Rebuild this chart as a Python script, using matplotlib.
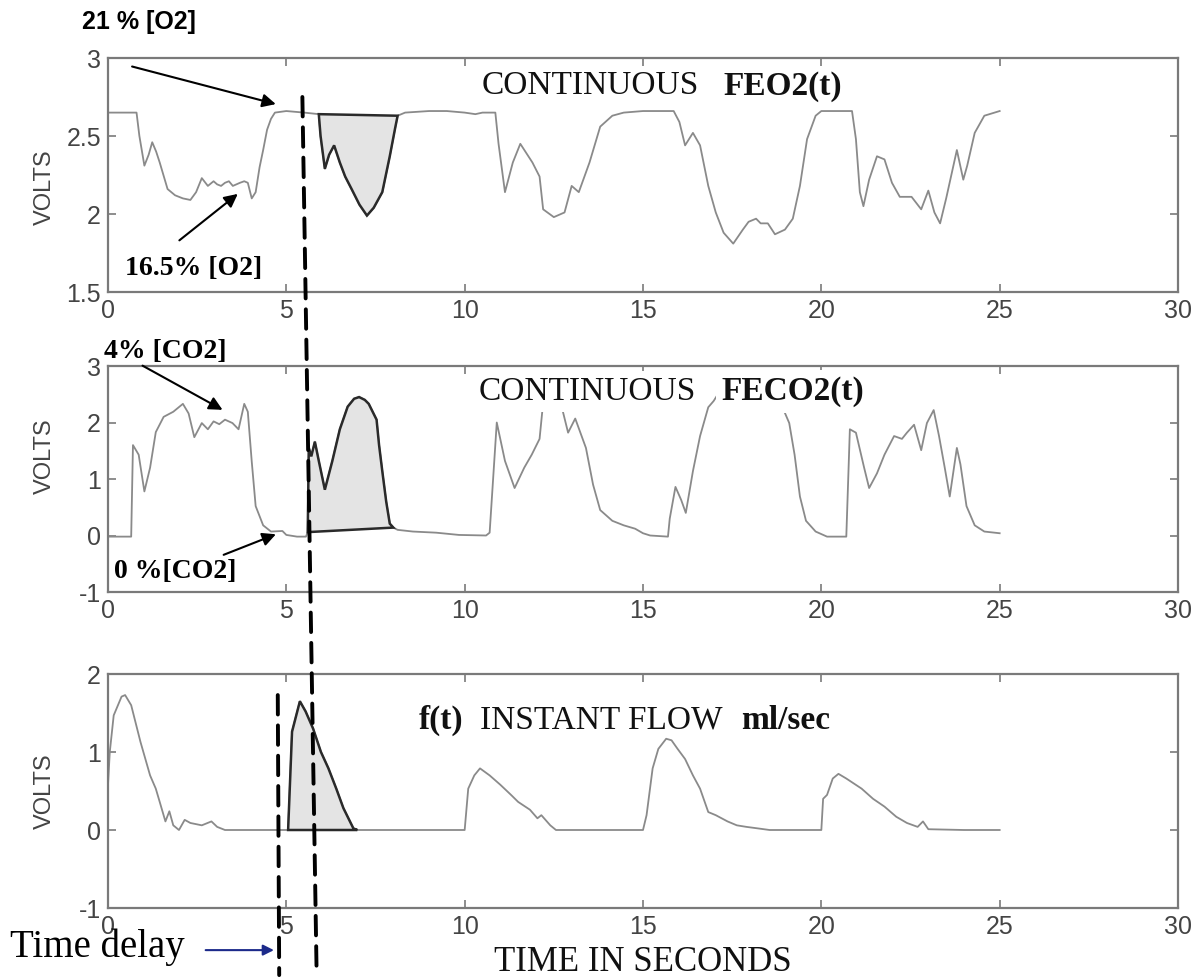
import matplotlib
matplotlib.use('Agg')
import matplotlib.pyplot as plt
from matplotlib.patches import ConnectionPatch
import numpy as np

# ---------------- data ----------------
o2_t = [0, 0.8, 0.88, 1.02, 1.14, 1.24, 1.35, 1.45, 1.67, 1.88, 2.1, 2.31, 2.47, 2.63, 2.8,
        2.96, 3.06, 3.17, 3.28, 3.39, 3.5, 3.6, 3.7, 3.82, 3.92, 4.03, 4.14, 4.25, 4.35, 4.46,
        4.57, 4.68, 5.0, 5.5, 5.91, 5.96, 6.08, 6.2, 6.34, 6.5, 6.65, 6.83, 7.05, 7.26, 7.45,
        7.69, 7.9, 8.05, 8.12, 8.33, 9.0, 9.5, 10.0, 10.3, 10.5, 10.86, 10.95, 11.13, 11.35,
        11.56, 11.9, 12.1, 12.2, 12.5, 12.8, 13.0, 13.2, 13.5, 13.8, 14.14, 14.46, 15.0, 15.86,
        16.02, 16.18, 16.4, 16.6, 16.83, 17.04, 17.26, 17.53, 17.8, 17.96, 18.17, 18.3, 18.5,
        18.7, 18.98, 19.2, 19.4, 19.6, 19.84, 20.0, 20.86, 20.97, 21.08, 21.18, 21.34, 21.56,
        21.77, 21.98, 22.2, 22.53, 22.8, 23.0, 23.17, 23.33, 23.5, 23.8, 23.98, 24.09, 24.3,
        24.57, 25.0]
o2_v = [2.65, 2.65, 2.5, 2.31, 2.38, 2.46, 2.4, 2.33, 2.16, 2.12, 2.1, 2.09, 2.14, 2.23, 2.18,
        2.21, 2.19, 2.18, 2.2, 2.21, 2.18, 2.19, 2.2, 2.21, 2.2, 2.1, 2.14, 2.3, 2.41, 2.54,
        2.61, 2.65, 2.66, 2.65, 2.64, 2.5, 2.29, 2.38, 2.44, 2.33, 2.24, 2.16, 2.06, 1.99, 2.04,
        2.14, 2.37, 2.55, 2.63, 2.65, 2.66, 2.66, 2.65, 2.64, 2.65, 2.65, 2.45, 2.14, 2.33,
        2.45, 2.33, 2.24, 2.03, 1.98, 2.01, 2.18, 2.14, 2.33, 2.56, 2.63, 2.65, 2.66, 2.66,
        2.59, 2.44, 2.52, 2.44, 2.18, 2.01, 1.88, 1.81, 1.9, 1.95, 1.97, 1.94, 1.94,
        1.87, 1.9, 1.97, 2.18, 2.48, 2.63, 2.66, 2.66, 2.48, 2.14, 2.05, 2.22, 2.37,
        2.35, 2.2, 2.11, 2.11, 2.03, 2.15, 2.01, 1.94, 2.1, 2.41, 2.22, 2.31, 2.52,
        2.63, 2.66]

co2_t = [0, 0.65, 0.7, 0.86, 1.02, 1.18, 1.34, 1.56, 1.83, 2.1, 2.26, 2.42, 2.63, 2.8, 2.96,
         3.12, 3.28, 3.49, 3.66, 3.82, 3.92, 4.03, 4.14, 4.35, 4.57, 4.89, 5.0, 5.3, 5.55,
         5.6, 5.63, 5.7, 5.8, 5.91, 6.08, 6.29, 6.5, 6.72, 6.9, 7.04, 7.2, 7.31, 7.53, 7.6,
         7.69, 7.8, 7.9, 8.0, 8.12, 8.55, 9.2, 9.84, 10.6, 10.7, 10.9, 11.13, 11.4, 11.67,
         11.88, 12.1, 12.2, 12.3, 12.6, 12.7, 12.9, 13.1, 13.4, 13.6, 13.8, 14.14, 14.46,
         14.78, 15.0, 15.2, 15.7, 15.75, 15.91, 16.07, 16.2, 16.4, 16.6, 16.83, 16.98, 17.2,
         17.8, 17.9, 18.0, 18.8, 18.87, 19.1, 19.25, 19.4, 19.57, 19.84, 20.16, 20.7, 20.8,
         20.97, 21.2, 21.34, 21.56, 21.77, 22.04, 22.26, 22.4, 22.6, 22.8, 22.96, 23.15, 23.3,
         23.46, 23.6, 23.8, 23.9, 24.07, 24.3, 24.57, 25.0]
co2_v = [-0.02, -0.02, 1.6, 1.43, 0.78, 1.2, 1.83, 2.1, 2.19, 2.33, 2.16, 1.74, 1.99, 1.88, 2.02,
         1.97, 2.05, 1.99, 1.88, 2.33, 2.19, 1.31, 0.52, 0.18, 0.07, 0.08, 0.01, -0.02, -0.02,
         0.06, 1.55, 1.4, 1.66, 1.32, 0.81, 1.32, 1.88, 2.28, 2.42, 2.45, 2.4, 2.33, 2.05, 1.6,
         1.14, 0.6, 0.21, 0.14, 0.1, 0.07, 0.05, 0.01, 0.0, 0.05, 2.0, 1.32, 0.84, 1.2,
         1.43, 1.71, 2.35, 2.6, 2.6, 2.33, 1.82, 2.07, 1.55, 0.9, 0.45, 0.26, 0.18,
         0.12, 0.04, 0.0, -0.02, 0.3, 0.86, 0.63, 0.4, 1.14, 1.76, 2.27, 2.38, 2.6,
         2.6, 2.3, 2.6, 2.6, 2.33, 1.99, 1.43, 0.69, 0.26, 0.07, -0.02, -0.02, 1.88,
         1.82, 1.2, 0.84, 1.1, 1.43, 1.76, 1.71, 1.82, 1.96, 1.51, 1.99, 2.22, 1.76,
         1.2, 0.69, 1.55, 1.26, 0.52, 0.18, 0.07, 0.04]

flow_t = [0, 0.05, 0.16, 0.38, 0.48, 0.65, 0.91, 1.18, 1.34, 1.45, 1.61, 1.72, 1.83, 1.99, 2.15,
          2.31, 2.63, 2.9, 3.06, 3.28, 4.0, 4.6, 5.05, 5.16, 5.38, 5.54, 5.75, 5.97, 6.18, 6.4,
          6.6, 6.88, 6.99, 7.5, 8.5, 9.5, 10.0, 10.1, 10.27, 10.43, 10.7, 11.0, 11.3, 11.5,
          11.83, 12.04, 12.15, 12.4, 12.56, 13.5, 14.5, 15.0, 15.1, 15.27, 15.43, 15.65, 15.8,
          15.97, 16.18, 16.4, 16.6, 16.83, 17.04, 17.37, 17.63, 17.9, 18.23, 18.55, 19.5, 20.0,
          20.05, 20.16, 20.32, 20.48, 20.7, 21.13, 21.45, 21.77, 22.1, 22.4, 22.7, 22.85, 23.0,
          24.0, 25.0]
flow_v = [0.58, 1.0, 1.47, 1.71, 1.73, 1.6, 1.13, 0.7, 0.53, 0.36, 0.11, 0.24, 0.06, 0.0, 0.13,
          0.09, 0.06, 0.11, 0.04, 0.0, 0.0, 0.0, 0.0, 1.26, 1.65, 1.52, 1.3, 1.0, 0.79, 0.53,
          0.28, 0.02, 0.0, 0.0, 0.0, 0.0, 0.0, 0.53, 0.7, 0.79, 0.7, 0.58, 0.45, 0.36,
          0.26, 0.15, 0.19, 0.06, 0.0, 0.0, 0.0, 0.0, 0.19, 0.79, 1.04, 1.17, 1.15,
          1.04, 0.91, 0.7, 0.53, 0.23, 0.19, 0.11, 0.06, 0.04, 0.02, 0.0, 0.0, 0.0,
          0.4, 0.45, 0.66, 0.72, 0.66, 0.53, 0.4, 0.3, 0.17, 0.09, 0.04, 0.11, 0.01,
          0.0, 0.0]

# time windows of the shaded breath
o2_shade = (5.9, 8.13)
co2_shade = (5.58, 8.05)
flow_shade = (5.04, 7.0)

x_ticks = [0, 5, 10, 15, 20, 25, 30]

SANS = 'Liberation Sans'
SERIF = 'Liberation Serif'
LINE_C = '#8a8a8a'
SPINE_C = '#7a7a7a'
LABEL_C = '#444444'

fig = plt.figure(figsize=(12, 9.8), dpi=100)
W, H = 1200, 980


def make_ax(top_px, bot_px):
    return fig.add_axes([108 / W, 1 - bot_px / H, 1070 / W, (bot_px - top_px) / H])


ax1 = make_ax(58, 292)
ax2 = make_ax(366, 592)
ax3 = make_ax(674, 908)

panels = [
    (ax1, o2_t, o2_v, o2_shade, (1.5, 3), [1.5, 2, 2.5, 3], ['1.5', '2', '2.5', '3'], 0.45),
    (ax2, co2_t, co2_v, co2_shade, (-1, 3), [-1, 0, 1, 2, 3], ['-1', '0', '1', '2', '3'], 0.6),
    (ax3, flow_t, flow_v, flow_shade, (-1, 2), [-1, 0, 1, 2], ['-1', '0', '1', '2'], 0.5),
]

for ax, t, v, sh, ylim, yt, ytl, ly in panels:
    t = np.array(t)
    v = np.array(v)
    ax.plot(t, v, color=LINE_C, lw=1.3, zorder=2)
    m = (t >= sh[0]) & (t <= sh[1])
    ax.fill(t[m], v[m], facecolor='#e4e4e4', edgecolor='#2a2a2a', lw=1.8, zorder=3)
    ax.set_xlim(0, 30)
    ax.set_ylim(*ylim)
    ax.set_xticks(x_ticks)
    ax.set_xticklabels([str(x) for x in x_ticks])
    ax.set_yticks(yt)
    ax.set_yticklabels(ytl)
    ax.tick_params(direction='in', top=True, right=True, length=6, width=1.2,
                   color=SPINE_C, labelcolor=LABEL_C, labelsize=18, pad=5)
    for lab in ax.get_xticklabels() + ax.get_yticklabels():
        lab.set_fontfamily(SANS)
    for s in ax.spines.values():
        s.set_color(SPINE_C)
        s.set_linewidth(1.6)
    ax.set_ylabel('VOLTS', fontsize=17, family=SANS, color=LABEL_C)
    ax.yaxis.set_label_coords(-0.049, ly)

# panel titles
title_kw = dict(fontsize=24, family=SERIF, color='#111111', va='center', zorder=5)
box = dict(facecolor='white', edgecolor='none', pad=4)
ax1.text(10.48, 2.82, 'CONTINUOUS', **title_kw)
ax1.text(17.26, 2.82, 'FEO2(t)', fontweight='bold', **title_kw)
ax2.text(10.38, 2.55, 'CONTINUOUS', bbox=box, **title_kw)
ax2.text(17.2, 2.55, 'FECO2(t)', fontweight='bold', bbox=box, **title_kw)
ax3.text(8.71, 1.41, 'f(t)', fontweight='bold', **title_kw)
ax3.text(10.43, 1.41, 'INSTANT FLOW', **title_kw)
ax3.text(17.74, 1.41, 'ml/sec', fontweight='bold', **title_kw)

# labels with arrows
arrow = dict(arrowstyle='-|>', color='black', lw=1.5, mutation_scale=20)
ax1.text(-0.72, 3.23, '21 % [O2]', fontsize=18, fontweight='bold', family=SANS,
         va='center', clip_on=False)
ax1.annotate('', xy=(4.78, 2.70), xytext=(0.6, 2.95), arrowprops=arrow)
ax1.text(0.48, 1.65, '16.5% [O2]', fontsize=20, fontweight='bold', family=SERIF, va='center')
ax1.annotate('', xy=(3.7, 2.14), xytext=(1.94, 1.82), arrowprops=arrow)
ax2.text(-0.1, 3.26, '4% [CO2]', fontsize=20, fontweight='bold', family=SERIF, va='center',
         clip_on=False)
ax2.annotate('', xy=(3.28, 2.2), xytext=(0.9, 3.03), arrowprops=arrow, annotation_clip=False)
ax2.text(0.16, -0.64, '0 %[CO2]', fontsize=20, fontweight='bold', family=SERIF, va='center')
ax2.annotate('', xy=(4.78, 0.04), xytext=(3.17, -0.36), arrowprops=arrow)

# time delay markers (dashed lines across panels)
dash = dict(color='black', lw=2.8, linestyle=(0, (5, 2.8)), zorder=10)
fig.add_artist(ConnectionPatch(xyA=(5.45, 2.75), coordsA=ax1.transData,
                               xyB=(5.85, -1.86), coordsB=ax3.transData, **dash))
fig.add_artist(ConnectionPatch(xyA=(4.76, 1.73), coordsA=ax3.transData,
                               xyB=(4.8, -1.86), coordsB=ax3.transData, **dash))

ax3.text(-2.75, -1.5, 'Time delay', fontsize=28, family=SERIF, va='center', clip_on=False)
ax3.annotate('', xy=(4.73, -1.54), xytext=(2.66, -1.54), annotation_clip=False,
             arrowprops=dict(arrowstyle='-|>', color='#1c2a8a', lw=1.5, mutation_scale=16))
ax3.set_xlabel('TIME IN SECONDS', fontsize=25, family=SERIF, color='#111111', labelpad=5)

fig.savefig('out.png', dpi=100)
